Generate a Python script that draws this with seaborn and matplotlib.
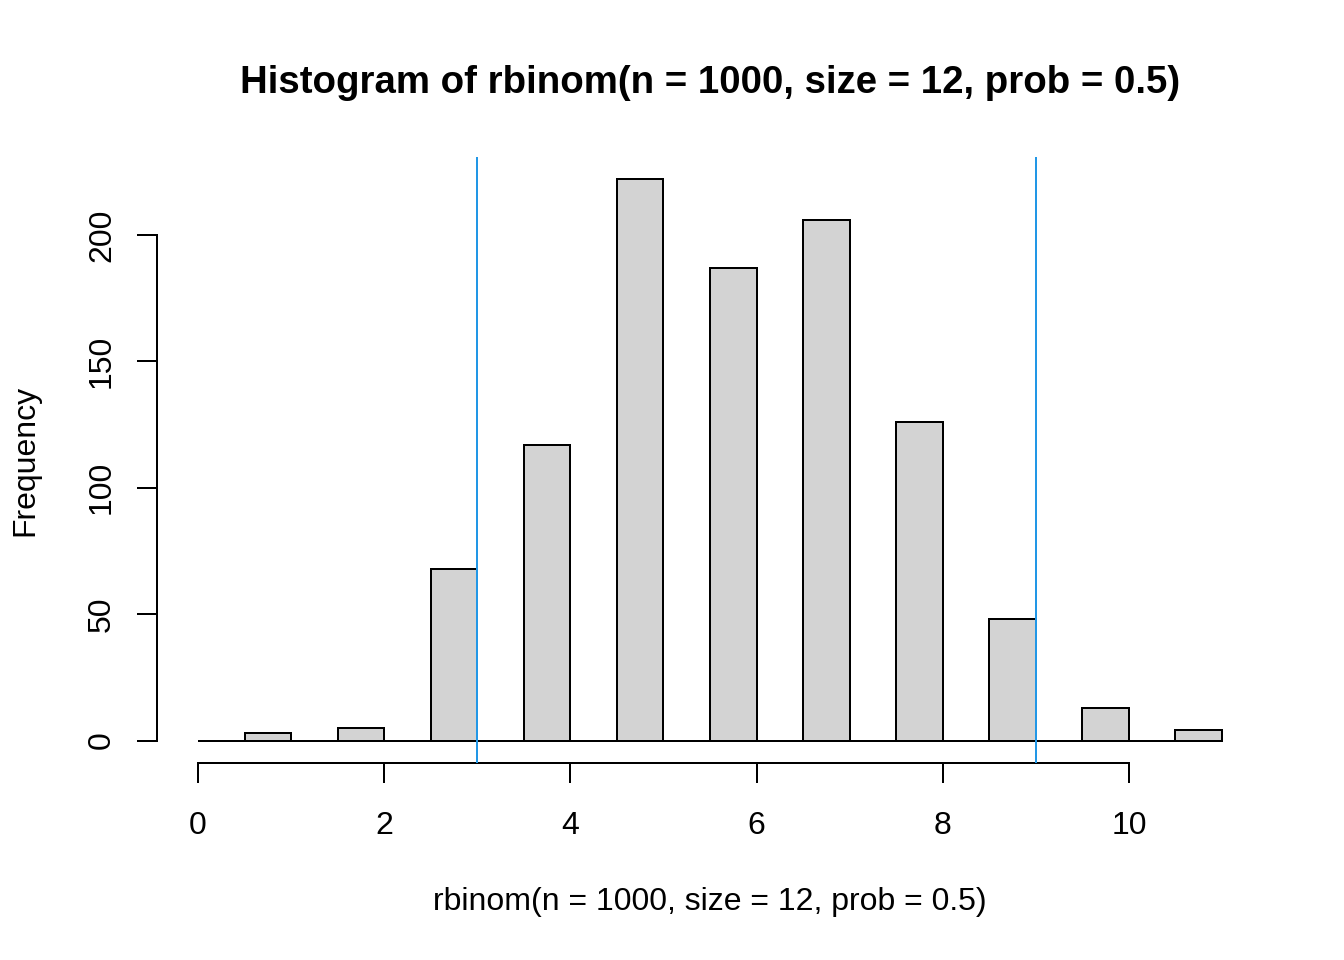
import numpy as np
import pandas as pd
import seaborn as sns
import matplotlib.pyplot as plt

values = [0, 1, 2, 3, 4, 5, 6, 7, 8, 9, 10, 11]
counts = [1, 3, 5, 68, 117, 222, 187, 206, 126, 48, 13, 4]
breaks = [i * 0.5 for i in range(23)]
xticks = [0, 2, 4, 6, 8, 10]
yticks = [0, 50, 100, 150, 200]
vlines = [3, 9]

sns.set_style("white")
plt.rcParams['font.family'] = ['Liberation Sans', 'DejaVu Sans']
plt.rcParams['text.color'] = 'black'
plt.rcParams['xtick.color'] = 'black'
plt.rcParams['ytick.color'] = 'black'

fig = plt.figure(figsize=(7, 5), dpi=192)
ax = fig.add_axes([157 / 1344, 1 - 763 / 960, (1263 - 157) / 1344, (763 - 157) / 960])

# R's hist uses right-closed bins (k-0.5, k], so place each value mid-bin
df = pd.DataFrame({'x': np.array(values) - 0.25, 'n': counts})
sns.histplot(data=df, x='x', weights='n', bins=breaks, ax=ax,
             color='#D3D3D3', edgecolor='black', linewidth=0.75, alpha=1)

ax.set_xlim(-0.44, 11.44)
ax.set_ylim(-8.88, 230.88)
for v in vlines:
    ax.axvline(v, color='#2297E6', linewidth=0.75, zorder=3)

for s in ['top', 'right']:
    ax.spines[s].set_visible(False)
ax.spines['bottom'].set_bounds(0, 10)
ax.spines['left'].set_bounds(0, 200)
for s in ['bottom', 'left']:
    ax.spines[s].set_linewidth(0.75)
    ax.spines[s].set_color('black')

ax.set_xticks(xticks)
ax.set_yticks(yticks)
ax.set_yticklabels([str(t) for t in yticks], rotation=90, va='center')
ax.tick_params(axis='both', direction='out', length=7.5, width=0.75,
               labelsize=12, bottom=True, left=True, labelcolor='black')
ax.tick_params(axis='x', pad=10.5)
ax.tick_params(axis='y', pad=7.5)
ax.grid(False)
ax.set_xlabel('')
ax.set_ylabel('')

fig.text(710 / 1344, 1 - 902 / 960, 'rbinom(n = 1000, size = 12, prob = 0.5)',
         ha='center', va='center', fontsize=12)
fig.text(25 / 1344, 1 - 460 / 960, 'Frequency', rotation=90,
         ha='center', va='center', fontsize=12)
fig.text(710 / 1344, 1 - 83 / 960, 'Histogram of rbinom(n = 1000, size = 12, prob = 0.5)',
         ha='center', va='center', fontsize=14.4, fontweight='bold')

fig.savefig('out.png', dpi=192)
